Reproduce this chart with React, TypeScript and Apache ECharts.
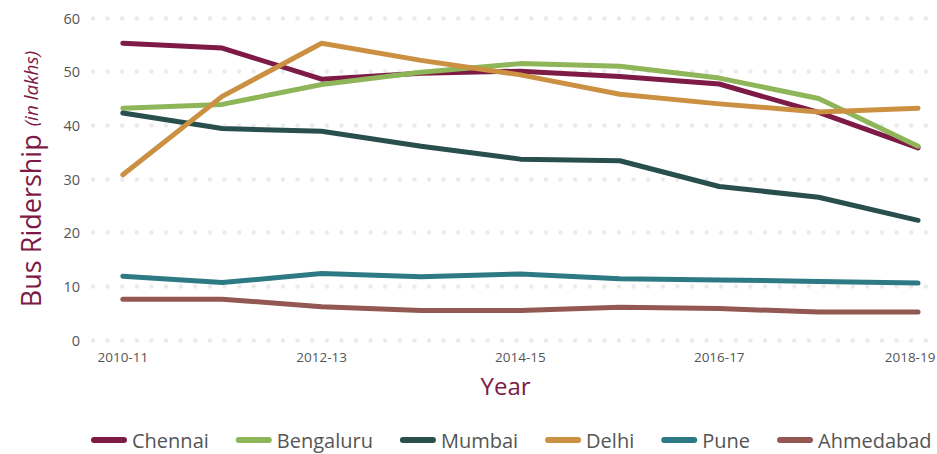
import React, { useEffect, useRef } from "react";
import * as echarts from "echarts";

const years = ["2010-11", "2011-12", "2012-13", "2013-14", "2014-15", "2015-16", "2016-17", "2017-18", "2018-19"];
const labelledYears = [0, 2, 4, 6, 8];

const chennai = [55.3, 54.4, 48.6, 49.7, 50.1, 49.1, 47.7, 42.4, 35.8];
const bengaluru = [43.2, 43.9, 47.6, 49.9, 51.5, 51.0, 48.8, 45.0, 36.1];
const mumbai = [42.3, 39.4, 38.9, 36.1, 33.7, 33.4, 28.6, 26.6, 22.3];
const delhi = [30.8, 45.4, 55.3, 52.1, 49.4, 45.8, 44.0, 42.5, 43.2];
const pune = [11.9, 10.7, 12.4, 11.8, 12.3, 11.4, 11.2, 10.9, 10.6];
const ahmedabad = [7.6, 7.6, 6.2, 5.5, 5.5, 6.1, 5.85, 5.2, 5.2];

const seriesDefs = [
  { name: "Chennai", data: chennai, color: "#7d1a45" },
  { name: "Bengaluru", data: bengaluru, color: "#8fb559" },
  { name: "Mumbai", data: mumbai, color: "#284f4e" },
  { name: "Delhi", data: delhi, color: "#cc9043" },
  { name: "Pune", data: pune, color: "#2d7a84" },
  { name: "Ahmedabad", data: ahmedabad, color: "#925851" },
];

const FONT = "'Open Sans', 'Noto Sans', sans-serif";

export default function App() {
  const ref = useRef<HTMLDivElement>(null);
  useEffect(() => {
    if (!ref.current) return;
    const chart = echarts.init(ref.current, null, { renderer: "svg" });
    chart.setOption({
      animation: false,
      backgroundColor: "#ffffff",
      textStyle: { fontFamily: FONT },
      grid: { left: 93, right: 9, top: 18, bottom: 114, outerBoundsMode: "none", containLabel: false },
      legend: {
        bottom: 4,
        left: 91,
        right: 0,
        padding: 0,
        icon: "path://M3,0 H33 A3,3 0 0 1 33,6 H3 A3,3 0 0 1 3,0 Z",
        itemWidth: 36,
        itemHeight: 6,
        itemGap: 27,
        textStyle: { color: "#555555", fontSize: 20, fontFamily: FONT },
        data: seriesDefs.map((s) => s.name),
      },
      xAxis: {
        type: "value",
        min: -0.3,
        max: 8.1,
        interval: 0.1,
        name: "Year",
        nameLocation: "middle",
        nameGap: 33,
        nameTextStyle: { color: "#7d1a45", fontSize: 24, fontFamily: FONT, padding: [0, 10, 0, 0] },
        axisLine: { show: false },
        axisTick: { show: false },
        splitLine: { show: false },
        axisLabel: {
          customValues: labelledYears,
          formatter: (v: number) => {
            const i = Math.round(v);
            const label = years[i] ?? "";
            return i === years.length - 1 ? "{last|" + label + "}" : label;
          },
          color: "#555555",
          fontSize: 13.5,
          margin: 10,
          fontFamily: FONT,
          rich: {
            last: { color: "#555555", fontSize: 13.5, fontFamily: FONT, padding: [0, 16, 0, 0] },
          },
        },
      },
      yAxis: {
        type: "value",
        min: 0,
        max: 60,
        interval: 10,
        name: "{a|Bus Ridership}{b|(in lakhs)}",
        nameLocation: "middle",
        nameGap: 49,
        nameRotate: 90,
        nameTextStyle: {
          rich: {
            a: { color: "#7d1a45", fontSize: 27, fontFamily: FONT },
            b: { color: "#7d1a45", fontSize: 19, fontStyle: "italic", fontFamily: FONT, padding: [0, 0, 0, 8] },
          },
        },
        axisLine: { show: false },
        axisTick: { show: false },
        axisLabel: { color: "#555555", fontSize: 14.5, margin: 13, fontFamily: FONT },
        splitLine: {
          show: true,
          lineStyle: { color: "#ebebeb", width: 4.5, type: [0.01, 14.6], cap: "round" },
        },
      },
      series: seriesDefs.map((s) => ({
        name: s.name,
        type: "line",
        data: s.data.map((v, i) => [i, v]),
        symbol: "none",
        color: s.color,
        lineStyle: { color: s.color, width: 5, cap: "round", join: "round" },
      })),
    });
    return () => chart.dispose();
  }, []);
  return <div ref={ref} style={{ width: 937, height: 454, position: "absolute", left: 0, top: 0 }} />;
}
